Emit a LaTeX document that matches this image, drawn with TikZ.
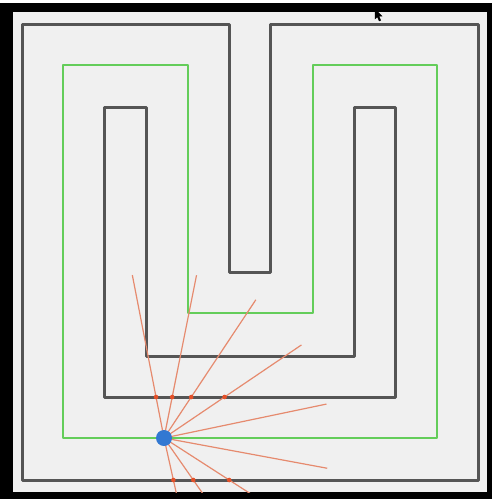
\documentclass[tikz,border=0pt]{standalone}
\usetikzlibrary{calc}
\definecolor{bgpanel}{RGB}{240,240,240}
\definecolor{wallgray}{RGB}{85,85,85}
\definecolor{pathgreen}{RGB}{100,205,90}
\definecolor{raycol}{RGB}{230,138,110}
\definecolor{hitcol}{RGB}{228,80,40}
\definecolor{robotblue}{RGB}{50,120,210}
\tikzset{
  wall/.style={draw=wallgray, line width=3pt, line join=round},
  route/.style={draw=pathgreen, line width=2pt, line join=round},
  ray/.style={draw=raycol, line width=1.2pt},
  hit/.style={fill=hitcol},
}
\begin{document}
\begin{tikzpicture}[x=1pt,y=-1pt]
\useasboundingbox (0,0) rectangle (492,499);
\fill[white] (0,0) rectangle (492,499);
\fill[black] (0,3) rectangle (492,499);
\fill[bgpanel] (13,12) rectangle (487,492);
% walls
\draw[wall] (229,272) -- (229,24) -- (22,24) -- (22,480) -- (478,480) -- (478,24) -- (270,24) -- (270,272) -- cycle;
\draw[wall] (104,107) -- (146,107) -- (146,356) -- (354,356) -- (354,107) -- (395,107) -- (395,397) -- (104,397) -- cycle;
% planned route
\draw[route] (63,65) -- (188,65) -- (188,313) -- (313,313) -- (313,65) -- (437,65) -- (437,438) -- (63,438) -- cycle;
% robot and rays
\coordinate (c) at (164,438);
\begin{scope}
\clip (13,12) rectangle (487,492);
\foreach \a in {-101,-78.7,-56.4,-34.1,-11.8,10.5,32.8,55.1,77.4}{
  \draw[ray] (c) -- ($(c)+(\a:166)$);
}
\end{scope}
\foreach \a in {-101,-78.7,-56.4,-34.1}{
  \fill[hit] ($(c)+(\a:{(397-438)/sin(\a)})$) circle (2.3pt);
}
\foreach \a in {32.8,55.1,77.4}{
  \fill[hit] ($(c)+(\a:{(480-438)/sin(\a)})$) circle (2.3pt);
}
\fill[robotblue] (c) circle (8pt);
% mouse pointer
\fill[black, draw=black, line width=0.3pt] (375,9) -- (375,19) -- (377.3,16.8) -- (379.2,21) -- (380.8,20.3) -- (378.9,16.2) -- (382,16.2) -- cycle;
\end{tikzpicture}
\end{document}
